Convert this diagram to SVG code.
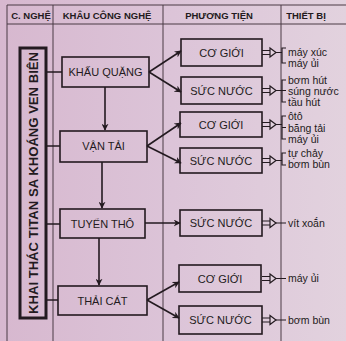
<svg xmlns="http://www.w3.org/2000/svg" width="346" height="341" viewBox="0 0 346 341">
<defs>
<linearGradient id="bgg" x1="0" y1="0" x2="1" y2="0">
<stop offset="0" stop-color="#d7b8cf"/>
<stop offset="0.5" stop-color="#dcc4d8"/>
<stop offset="1" stop-color="#e2d2de"/>
</linearGradient>
<marker id="ah" viewBox="0 0 10 10" refX="9" refY="5" markerWidth="7" markerHeight="7" markerUnits="userSpaceOnUse" orient="auto">
<path d="M0,0 L10,5 L0,10 L3,5 Z" fill="#231a20"/>
</marker>
<g id="dar">
<path d="M0,-2 H8 M0,2 H8 M14,0 H20" stroke="#231a20" stroke-width="1.2" fill="none"/>
<path d="M8,-4.5 L14,0 L8,4.5 Z" stroke="#231a20" stroke-width="1.2" fill="#e2d2de"/>
</g>
</defs>
<style>
.grid{stroke:#4a3a44;stroke-width:1;fill:none}
.box{fill:none;stroke:#231a20;stroke-width:1.6}
.lbl{font-family:"Liberation Sans",Arial,sans-serif;font-size:11px;fill:#231a20;text-anchor:middle}
.hdr{font-family:"Liberation Sans",Arial,sans-serif;font-size:9.5px;font-weight:bold;fill:#231a20;text-anchor:middle}
.eq{font-family:"Liberation Sans",Arial,sans-serif;font-size:10.5px;fill:#231a20}
.conn{stroke:#231a20;stroke-width:1.6;fill:none}
.brk{stroke:#231a20;stroke-width:1.2;fill:none}
</style>
<rect x="0" y="0" width="346" height="341" fill="url(#bgg)"/>
<g id="table">
<path class="grid" d="M7,5 V341 M7,5 H346 M7,24 H346 M53,5 V341 M163,5 V341 M281,5 V341"/>
<text class="hdr" x="31" y="19">C. NGHỆ</text>
<text class="hdr" x="107" y="19">KHÂU CÔNG NGHỆ</text>
<text class="hdr" x="219" y="19">PHƯƠNG TIỆN</text>
<text class="hdr" x="306" y="19">THIẾT BỊ</text>
</g>
<g id="root">
<rect x="20" y="48" width="26" height="270" fill="none" stroke="#231a20" stroke-width="3"/>
<text class="lbl" style="font-size:13px;font-weight:bold" transform="translate(38,183) rotate(-90)" textLength="262" lengthAdjust="spacingAndGlyphs">KHAI THÁC TITAN SA KHOÁNG VEN BIÊN</text>
</g>
<g id="khau-quang"><rect class="box" x="62" y="57" width="87" height="30"/><text class="lbl" x="105.5" y="76">KHẤU QUẶNG</text></g>
<g id="van-tai"><rect class="box" x="60" y="131" width="87" height="31"/><text class="lbl" x="103.5" y="150">VẬN TẢI</text></g>
<g id="tuyen-tho"><rect class="box" x="60" y="209" width="85" height="29"/><text class="lbl" x="102.5" y="227.5">TUYỂN THÔ</text></g>
<g id="thai-cat"><rect class="box" x="58" y="286" width="89" height="29"/><text class="lbl" x="102.5" y="304.5">THẢI CÁT</text></g>
<g id="co-gioi-1"><rect class="box" x="181" y="39" width="81" height="27"/><text class="lbl" x="221.5" y="56.5">CƠ GIỚI</text></g>
<g id="suc-nuoc-1"><rect class="box" x="181" y="77" width="81" height="27"/><text class="lbl" x="221.5" y="94.5">SỨC NƯỚC</text></g>
<g id="co-gioi-2"><rect class="box" x="180" y="112" width="82" height="25"/><text class="lbl" x="221" y="128.5">CƠ GIỚI</text></g>
<g id="suc-nuoc-2"><rect class="box" x="180" y="148" width="82" height="25"/><text class="lbl" x="221" y="164.5">SỨC NƯỚC</text></g>
<g id="suc-nuoc-3"><rect class="box" x="180" y="210" width="82" height="26"/><text class="lbl" x="221" y="227">SỨC NƯỚC</text></g>
<g id="co-gioi-3"><rect class="box" x="179" y="265" width="82" height="27"/><text class="lbl" x="220" y="282.5">CƠ GIỚI</text></g>
<g id="suc-nuoc-4"><rect class="box" x="179" y="306" width="83" height="28"/><text class="lbl" x="220.5" y="324">SỨC NƯỚC</text></g>
<g id="equipment">
<text class="eq" x="288" y="55.5">máy xúc</text>
<text class="eq" x="288" y="66.5">máy ủi</text>
<text class="eq" x="288" y="83.5">bơm hút</text>
<text class="eq" x="288" y="95">súng nước</text>
<text class="eq" x="288" y="106">tầu hút</text>
<text class="eq" x="288" y="119.5">ôtô</text>
<text class="eq" x="288" y="131.5">băng tải</text>
<text class="eq" x="288" y="143">máy ủi</text>
<text class="eq" x="288" y="156.5">tự chảy</text>
<text class="eq" x="288" y="168">bơm bùn</text>
<text class="eq" x="288" y="226.5">vít xoắn</text>
<text class="eq" x="288" y="282">máy ủi</text>
<text class="eq" x="288" y="323.5">bơm bùn</text>
</g>
<g id="connectors">
<path class="conn" d="M46,72 H62 M46,146 H60 M46,224 H60 M46,300 H58"/>
<path class="conn" marker-end="url(#ah)" d="M105,87 V130"/>
<path class="conn" marker-end="url(#ah)" d="M102,162 V208"/>
<path class="conn" marker-end="url(#ah)" d="M99,238 V285"/>
<path class="conn" marker-end="url(#ah)" d="M149,72 L181,51"/>
<path class="conn" marker-end="url(#ah)" d="M149,72 L181,92"/>
<path class="conn" marker-end="url(#ah)" d="M147,146 L181,123"/>
<path class="conn" marker-end="url(#ah)" d="M147,146 L181,163"/>
<path class="conn" marker-end="url(#ah)" d="M145,223 L180,223"/>
<path class="conn" marker-end="url(#ah)" d="M147,300 L179,282"/>
<path class="conn" marker-end="url(#ah)" d="M147,300 L179,318"/>
<use href="#dar" x="262" y="52.5"/>
<use href="#dar" x="262" y="90.5"/>
<use href="#dar" x="262" y="124.5"/>
<use href="#dar" x="262" y="160.5"/>
<use href="#dar" x="262" y="223"/>
<use href="#dar" x="262" y="278.5"/>
<use href="#dar" x="262" y="320"/>
<path class="brk" d="M286,48 H282 V63 H286"/>
<path class="brk" d="M286,80 H282 V102 H286 M282,90.5 H286"/>
<path class="brk" d="M286,116 H282 V139 H286 M282,127.5 H286"/>
<path class="brk" d="M286,153 H282 V165 H286"/>
<path class="brk" d="M282,223 H286 M282,278.5 H286 M282,320 H286"/>
</g>
</svg>
